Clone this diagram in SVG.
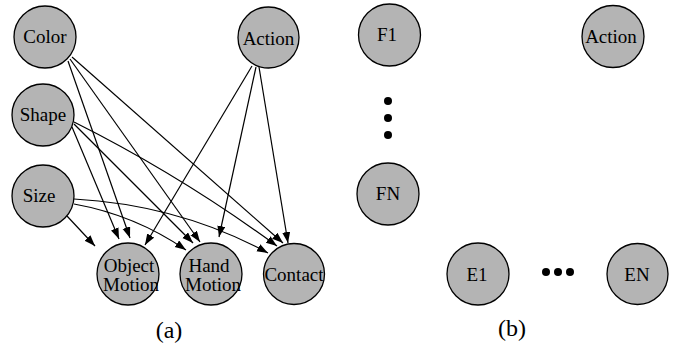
<svg xmlns="http://www.w3.org/2000/svg" width="685" height="349" viewBox="0 0 685 349">
<style>
.n circle{fill:#b4b4b4;stroke:#000;stroke-width:1.3}
text{font-family:"Liberation Serif","Times New Roman",serif;font-size:19px;fill:#000;text-anchor:middle}
.lbl{font-size:24px}
#edges path{fill:none;stroke:#000;stroke-width:1.2;marker-end:url(#ah)}
</style>
<defs>
<marker id="ah" markerUnits="userSpaceOnUse" markerWidth="12" markerHeight="10" refX="11" refY="4" orient="auto">
<path d="M0,0 L11,4 L0,8 z" fill="#000"/>
</marker>
</defs>
<rect width="685" height="349" fill="#fff"/>
<g id="edges">
<path d="M68,61 L130,238"/>
<path d="M70,59 L200,242"/>
<path d="M72,57 L283,243"/>
<path d="M72,127 L119,239"/>
<path d="M74,124 L193,243"/>
<path d="M74,122 Q180,175 277,246"/>
<path d="M67,216 L95,246"/>
<path d="M74,204 Q135,215 186,250"/>
<path d="M74,199 Q180,205 268,253"/>
<path d="M252,66 L145,245"/>
<path d="M256,67 L219,237"/>
<path d="M259,67 L288,243"/>
</g>
<g id="color" class="n"><circle cx="45" cy="37" r="31"/><text x="45" y="43">Color</text></g>
<g id="action_a" class="n"><circle cx="268.5" cy="37.5" r="30.5"/><text x="268.5" y="45">Action</text></g>
<g id="shape" class="n"><circle cx="43" cy="115" r="31"/><text x="43" y="121">Shape</text></g>
<g id="size" class="n"><circle cx="43" cy="196" r="31"/><text x="39" y="202">Size</text></g>
<g id="objmotion" class="n"><circle cx="128" cy="274" r="31"/><text x="129" y="272">Object</text><text x="131" y="291">Motion</text></g>
<g id="handmotion" class="n"><circle cx="211" cy="274" r="31"/><text x="209" y="272">Hand</text><text x="213" y="291">Motion</text></g>
<g id="contact" class="n"><circle cx="294" cy="274" r="30.5"/><text x="294" y="281">Contact</text></g>
<g id="f1" class="n"><circle cx="389.5" cy="35" r="31"/><text x="387" y="41">F1</text></g>
<g id="action_b" class="n"><circle cx="613" cy="36.5" r="31"/><text x="611" y="43">Action</text></g>
<g id="fn" class="n"><circle cx="388" cy="194" r="31"/><text x="388" y="200">FN</text></g>
<g id="e1" class="n"><circle cx="478" cy="274" r="31"/><text x="477" y="281">E1</text></g>
<g id="en" class="n"><circle cx="637.5" cy="274" r="30.5"/><text x="637" y="281">EN</text></g>
<g id="vdots"><circle cx="388" cy="101" r="4"/><circle cx="388" cy="118" r="4"/><circle cx="388" cy="135" r="4"/></g>
<g id="hdots"><circle cx="546" cy="272" r="4"/><circle cx="558" cy="272" r="4"/><circle cx="570" cy="272" r="4"/></g>
<text class="lbl" x="169" y="338">(a)</text>
<text class="lbl" x="512" y="336">(b)</text>
</svg>
